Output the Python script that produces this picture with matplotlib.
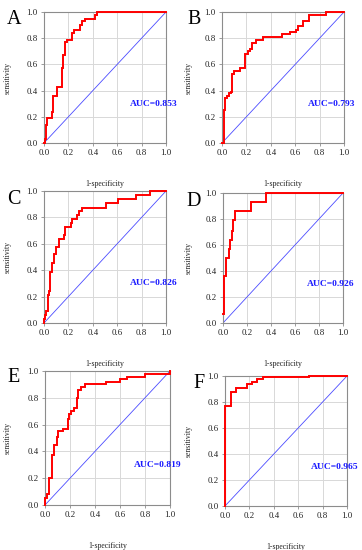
import matplotlib
matplotlib.use("Agg")
import matplotlib.pyplot as plt

# ---- data ----
labels = ["A", "B", "C", "D", "E", "F"]
auc_text = ["AUC=0.853", "AUC=0.793", "AUC=0.826", "AUC=0.926", "AUC=0.819", "AUC=0.965"]

fpr_A = [0, 0.005, 0.014, 0.027, 0.063, 0.077, 0.109, 0.145, 0.153, 0.172, 0.186, 0.232, 0.249, 0.295, 0.309, 0.336, 0.418, 0.437, 1.0]
tpr_A = [0, 0.03, 0.14, 0.19, 0.24, 0.36, 0.43, 0.57, 0.67, 0.77, 0.79, 0.84, 0.86, 0.90, 0.93, 0.95, 0.98, 1.0, 1.0]

fpr_B = [0, 0.013, 0.027, 0.045, 0.06, 0.075, 0.082, 0.096, 0.145, 0.185, 0.215, 0.232, 0.245, 0.28, 0.335, 0.49, 0.555, 0.605, 0.625, 0.66, 0.71, 0.85, 1.0]
tpr_B = [0, 0.25, 0.34, 0.36, 0.38, 0.39, 0.53, 0.55, 0.575, 0.68, 0.70, 0.72, 0.765, 0.785, 0.81, 0.83, 0.85, 0.865, 0.89, 0.935, 0.975, 1.0, 1.0]

fpr_C = [0, 0, 0.008, 0.02, 0.03, 0.045, 0.052, 0.066, 0.08, 0.095, 0.12, 0.16, 0.175, 0.22, 0.233, 0.27, 0.285, 0.31, 0.505, 0.605, 0.755, 0.865, 1.0]
tpr_C = [0, 0.03, 0.06, 0.09, 0.21, 0.245, 0.39, 0.455, 0.52, 0.575, 0.635, 0.67, 0.725, 0.755, 0.79, 0.82, 0.85, 0.875, 0.91, 0.94, 0.97, 1.0, 1.0]

fpr_D = [0.003, 0.01, 0.022, 0.047, 0.058, 0.075, 0.085, 0.097, 0.23, 0.362, 1.0]
tpr_D = [0.07, 0.36, 0.50, 0.57, 0.64, 0.71, 0.79, 0.86, 0.93, 1.0, 1.0]

fpr_E = [0, 0, 0.018, 0.035, 0.055, 0.073, 0.095, 0.107, 0.145, 0.18, 0.193, 0.205, 0.232, 0.252, 0.267, 0.285, 0.32, 0.49, 0.60, 0.655, 0.80, 1.0, 1.0]
tpr_E = [0, 0.055, 0.08, 0.20, 0.37, 0.45, 0.51, 0.55, 0.57, 0.645, 0.68, 0.70, 0.725, 0.80, 0.86, 0.88, 0.90, 0.92, 0.94, 0.955, 0.98, 0.98, 1.0]

fpr_F = [0, 0.003, 0.048, 0.087, 0.18, 0.22, 0.265, 0.31, 0.685, 1.0]
tpr_F = [0, 0.77, 0.88, 0.905, 0.94, 0.955, 0.975, 0.99, 1.0, 1.0]

curves = [(fpr_A, tpr_A), (fpr_B, tpr_B), (fpr_C, tpr_C),
          (fpr_D, tpr_D), (fpr_E, tpr_E), (fpr_F, tpr_F)]
ticks = [0.0, 0.2, 0.4, 0.6, 0.8, 1.0]
tick_labels = ["0.0", "0.2", "0.4", "0.6", "0.8", "1.0"]

# ---- layout (pixels: left, top, right, bottom) ----
W, H = 362, 550
boxes = [(44, 12, 166, 143), (222, 12, 344, 143),
         (44, 191, 166, 323), (223, 193, 343, 323),
         (45, 371, 170, 505), (225, 376, 347, 506)]
letter_pos = [(14, 20), (194, 20), (14, 199), (194, 202), (14, 378), (199, 383)]
ylabel_x = [12, 193, 12, 193, 12, 193]

plt.rcParams['font.family'] = ['Liberation Serif', 'DejaVu Serif']
fig = plt.figure(figsize=(W / 100, H / 100), dpi=100)
fig.patch.set_facecolor("white")

for i, (l, t, r, b) in enumerate(boxes):
    ax = fig.add_axes([l / W, 1 - b / H, (r - l) / W, (b - t) / H])
    ax.set_xlim(0, 1)
    ax.set_ylim(0, 1)
    ax.grid(True, color="#d8d8d8", linewidth=0.7, zorder=0)
    ax.set_axisbelow(True)
    for sp in ax.spines.values():
        sp.set_color("#8c8c8c")
        sp.set_linewidth(0.8)
    ax.set_xticks(ticks)
    ax.set_yticks(ticks)
    ax.set_xticklabels(tick_labels)
    ax.set_yticklabels(tick_labels)
    ax.tick_params(axis="both", labelsize=6.4, length=2, width=0.6,
                   color="#8c8c8c", pad=2.5, labelcolor="#222222")
    ax.plot([0, 1], [0, 1], color="#4b4bff", linewidth=0.6, zorder=2)
    fx, ty = curves[i]
    ax.plot(fx, ty, color="#ff0000", linewidth=1.4, drawstyle="steps-post",
            zorder=3, clip_on=False, solid_joinstyle="miter")
    ax.text(0.9, 0.30, auc_text[i], transform=ax.transAxes, ha="center",
            va="center", color="#1a1aff", fontweight="bold", fontsize=6.8,
            clip_on=False)
    ax.set_xlabel("1-specificity", fontsize=5.6, color="#222222")
    ax.xaxis.set_label_coords(0.5, -37 / (b - t))
    ax.set_ylabel("sensitivity", fontsize=5.6, color="#222222")
    ax.yaxis.set_label_coords((ylabel_x[i] - l) / (r - l), 0.5)
    lx, ly = letter_pos[i]
    fig.text(lx / W, 1 - ly / H, labels[i], fontsize=14.5, ha="center",
             va="center", color="black")

fig.savefig("out.png", dpi=100, facecolor="white")
